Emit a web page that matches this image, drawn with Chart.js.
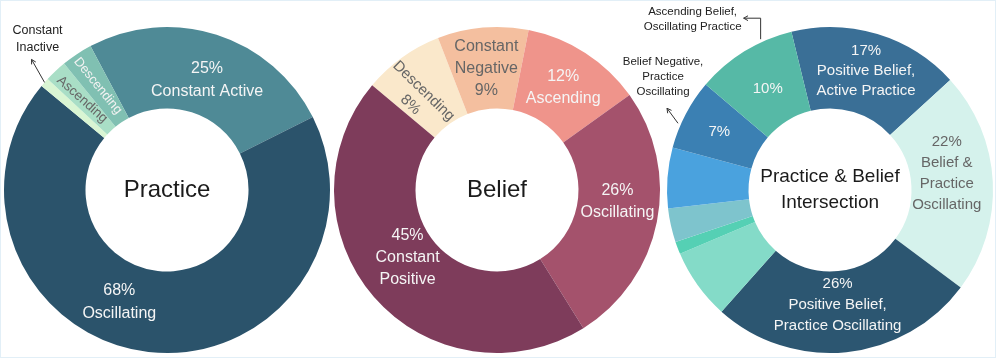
<!DOCTYPE html>
<html>
<head>
<meta charset="utf-8">
<script src="https://cdn.jsdelivr.net/npm/chart.js@4.4.1/dist/chart.umd.min.js"></script>
<style>
  html, body { margin: 0; padding: 0; background: #fff; }
  #wrap { position: relative; width: 996px; height: 358px; overflow: hidden; }
  #wrap canvas { position: absolute; left: 0; top: 0; pointer-events: none; }
  .frame { position: absolute; left: 0; top: 0; width: 996px; height: 358px; box-sizing: border-box; border: 1px solid #e2eff7; pointer-events: none; }
  #err { position: absolute; left: 10px; top: 330px; font: 11px monospace; color: red; }
</style>
</head>
<body>
<div id="wrap">
  <canvas id="c-practice" width="996" height="358"></canvas>
  <canvas id="c-belief" width="996" height="358"></canvas>
  <canvas id="c-inter" width="996" height="358"></canvas>
  <div class="frame"></div>
  <div id="err"></div>
</div>
<script>
// ---- data ----
const practiceLabels = ['Constant Active', 'Oscillating', 'Constant Inactive', 'Ascending', 'Descending'];
const practiceValues = [25.4, 68.4, 0.9, 2.2, 3.1];
const practiceColors = ['#4f8a96', '#2b536b', '#d9f5d3', '#a9dec6', '#80c0b2'];
const practiceText = [['{p}', 'Constant Active'], ['{p}', 'Oscillating'], null, ['Ascending'], ['Descending']];

const beliefLabels = ['Descending', 'Constant Negative', 'Ascending', 'Oscillating', 'Constant Positive'];
const beliefValues = [8, 9, 12, 26, 45];
const beliefColors = ['#fae8cb', '#f4bf9f', '#ef948b', '#a4526c', '#7e3c5b'];
const beliefText = [['Descending', '{p}'], ['Constant', 'Negative', '{p}'], ['{p}', 'Ascending'], ['{p}', 'Oscillating'], ['{p}', 'Constant', 'Positive']];

const interLabels = [
  'Positive Belief, Active Practice',
  'Belief & Practice Oscillating',
  'Positive Belief, Practice Oscillating',
  'Other 1', 'Other 2', 'Other 3', 'Other 4',
  'Belief Negative, Practice Oscillating',
  'Ascending Belief, Oscillating Practice'
];
const interValues = [17, 22, 26.4, 7, 1.25, 3.35, 6, 7, 10];
const interColors = ['#3a6f96', '#d5f2ec', '#2c5671', '#84dbc8', '#55d0b4', '#7ec4cd', '#4aa2de', '#3b80b3', '#56b9a6'];
const interText = [['{p}', 'Positive Belief,', 'Active Practice'], ['{p}', 'Belief &', 'Practice', 'Oscillating'],
  ['{p}', 'Positive Belief,', 'Practice Oscillating'], null, null, null, null, ['{p}'], ['{p}']];

const FONT = '"Liberation Sans", Arial, sans-serif';
const WHITE = '#f5f5f5';
const GREY = '#666666';

// labels in slices, centre title and callouts (config kept in a closure)
function segLabels(opts) {
  return {
    id: 'segLabels',
    afterDatasetsDraw(chart) {
      try {
        draw(chart, opts);
      } catch (e) {
        document.getElementById('err').textContent += e.message + ' ';
      }
    }
  };
}

function draw(chart, opts) {
  const ctx = chart.ctx;
  const meta = chart.getDatasetMeta(0);
  const values = chart.data.datasets[0].data;
  const total = values.reduce((a, b) => a + b, 0);
  const rad = d => d * Math.PI / 180;

  meta.data.forEach((arc, i) => {
    const lines = opts.texts[i];
    if (!lines) return;
    const st = Object.assign({}, opts.defaults, (opts.styles || {})[i]);
    const p = arc.getProps(['x', 'y', 'startAngle', 'endAngle', 'innerRadius', 'outerRadius'], true);
    const a = (p.startAngle + p.endAngle) / 2 + rad(st.shift || 0);
    const r = st.r != null ? st.r : (p.innerRadius + p.outerRadius) / 2;
    const pct = Math.round(values[i] / total * 100) + '%';
    ctx.save();
    ctx.translate(p.x + r * Math.cos(a), p.y + r * Math.sin(a));
    if (st.rotate != null) ctx.rotate(rad(st.rotate));
    ctx.font = st.size + 'px ' + FONT;
    ctx.fillStyle = st.color;
    ctx.textAlign = 'center';
    ctx.textBaseline = 'middle';
    lines.forEach((t, k) => ctx.fillText(t.replace('{p}', pct), 0, (k - (lines.length - 1) / 2) * st.lh));
    ctx.restore();
  });

  // title in the hole
  const c = meta.data[0].getProps(['x', 'y'], true);
  const tl = opts.title.lines;
  ctx.save();
  ctx.font = opts.title.size + 'px ' + FONT;
  ctx.fillStyle = '#1b1b1b';
  ctx.textAlign = 'center';
  ctx.textBaseline = 'middle';
  tl.forEach((t, k) => ctx.fillText(t, c.x, c.y + (k - (tl.length - 1) / 2) * opts.title.lh));
  ctx.restore();

  // callouts with a leader arrow
  (opts.callouts || []).forEach(co => {
    const p = meta.data[co.slice].getProps(['x', 'y', 'startAngle', 'endAngle', 'outerRadius'], true);
    const a = (p.startAngle + p.endAngle) / 2 + rad(co.shift || 0);
    const r = p.outerRadius + (co.gap || 0);
    let x = p.x + r * Math.cos(a), y = p.y + r * Math.sin(a);
    let px = x, py = y;
    ctx.save();
    ctx.strokeStyle = '#333';
    ctx.lineWidth = 1;
    ctx.beginPath();
    ctx.moveTo(x, y);
    co.path.forEach(d => { px = x; py = y; x += d[0]; y += d[1]; ctx.lineTo(x, y); });
    const ang = Math.atan2(y - py, x - px);
    ctx.moveTo(x - 5 * Math.cos(ang - 0.5), y - 5 * Math.sin(ang - 0.5));
    ctx.lineTo(x, y);
    ctx.lineTo(x - 5 * Math.cos(ang + 0.5), y - 5 * Math.sin(ang + 0.5));
    ctx.stroke();
    ctx.font = co.size + 'px ' + FONT;
    ctx.fillStyle = '#222';
    ctx.textAlign = 'center';
    ctx.textBaseline = 'middle';
    co.lines.forEach((t, k) => ctx.fillText(t, x + co.text[0], y + co.text[1] + (k - (co.lines.length - 1) / 2) * co.lh));
    ctx.restore();
  });
}

function makeDoughnut(id, labels, values, colors, rotation, padding, labelOpts) {
  return new Chart(document.getElementById(id), {
    type: 'doughnut',
    data: { labels: labels, datasets: [{ data: values, backgroundColor: colors, borderWidth: 0, hoverOffset: 0 }] },
    options: {
      responsive: false,
      devicePixelRatio: 1,
      animation: false,
      events: [],
      cutout: '50%',
      rotation: rotation,
      layout: { padding: padding },
      plugins: { legend: { display: false }, tooltip: { enabled: false } }
    },
    plugins: [segLabels(labelOpts)]
  });
}

makeDoughnut('c-practice', practiceLabels, practiceValues, practiceColors, -28,
  { left: 4, top: 27, right: 666, bottom: 5 }, {
    texts: practiceText,
    defaults: { size: 16, lh: 23, color: WHITE },
    styles: {
      0: { shift: 2.3, r: 117 },
      1: { shift: 16.4 },
      3: { size: 13.5, color: GREY, rotate: 42, r: 124 },
      4: { size: 13, color: '#f2f2f2', rotate: 51, r: 125 }
    },
    title: { lines: ['Practice'], size: 24, lh: 26 },
    callouts: [{ slice: 2, gap: 0, path: [[-13, -23]], lines: ['Constant', 'Inactive'], size: 12.5, lh: 17, text: [6, -20] }]
  });

makeDoughnut('c-belief', beliefLabels, beliefValues, beliefColors, -50,
  { left: 334, top: 27, right: 336, bottom: 5 }, {
    texts: beliefText,
    defaults: { size: 16, lh: 22, color: WHITE },
    styles: {
      0: { color: GREY, size: 15, lh: 19, rotate: 44, shift: -5.4, r: 122 },
      1: { color: GREY },
      3: { shift: -5.5, r: 121 },
      4: { shift: 4, r: 112 }
    },
    title: { lines: ['Belief'], size: 24, lh: 26 }
  });

makeDoughnut('c-inter', interLabels, interValues, interColors, -13.7,
  { left: 667, top: 27, right: 3, bottom: 5 }, {
    texts: interText,
    defaults: { size: 15, lh: 20, color: WHITE },
    styles: {
      0: { r: 124 },
      1: { color: GREY, lh: 21, shift: -5.4, r: 118 },
      2: { lh: 21, shift: 2, r: 115 },
      7: { r: 125 },
      8: { r: 118.5 }
    },
    title: { lines: ['Practice & Belief', 'Intersection'], size: 19, lh: 26 },
    callouts: [
      { slice: 8, shift: 7, gap: 3, path: [[0, -21], [-17, 0]], lines: ['Ascending Belief,', 'Oscillating Practice'], size: 11.5, lh: 15, text: [-51, 1.5] },
      { slice: 7, shift: -4, gap: 3, path: [[-11, -15]], lines: ['Belief Negative,', 'Practice', 'Oscillating'], size: 11.5, lh: 15, text: [-4, -31] }
    ]
  });
</script>
</body>
</html>
